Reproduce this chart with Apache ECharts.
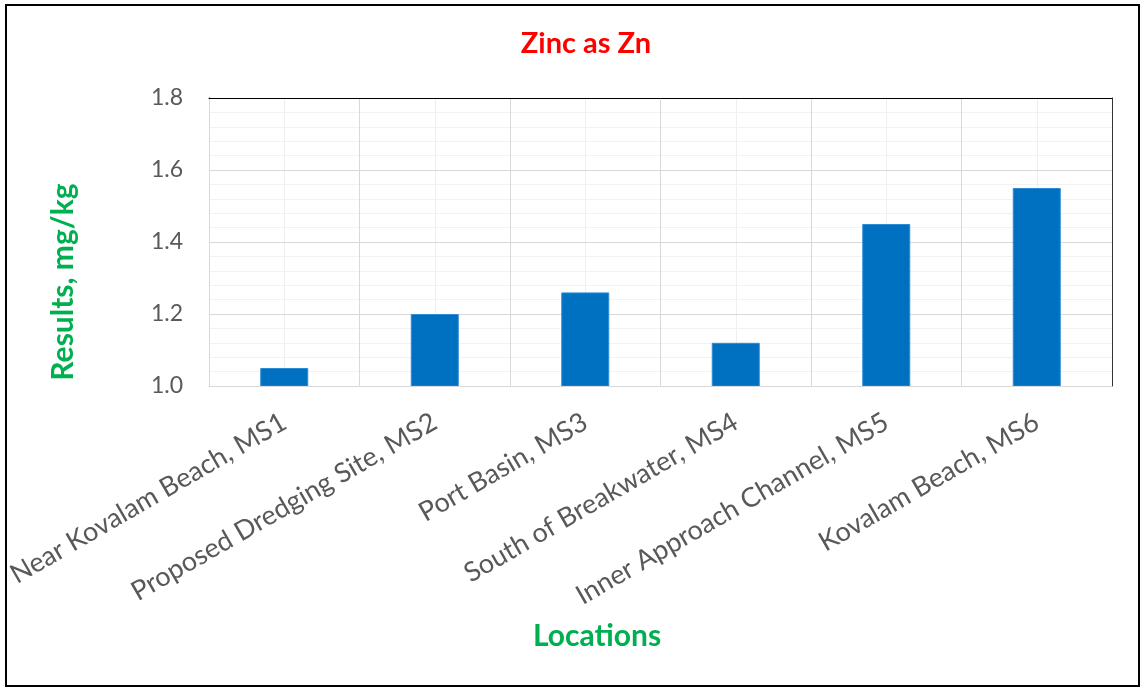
<!DOCTYPE html>
<html>
<head>
<meta charset="utf-8">
<script src="https://cdn.jsdelivr.net/npm/echarts@6/dist/echarts.min.js"></script>
<style>html,body{margin:0;padding:0;background:#fff;}#c{width:1147px;height:689px;}</style>
</head>
<body>
<div id="c"></div>
<script>
const categories = ['Near Kovalam Beach, MS1','Proposed Dredging Site, MS2','Port Basin, MS3','South of Breakwater, MS4','Inner Approach Channel, MS5','Kovalam Beach, MS6'];
const zincValues = [1.05, 1.20, 1.26, 1.12, 1.45, 1.55];
const yMin = 1.0, yMax = 1.8, yStep = 0.2;
const titleText = 'Zinc as Zn';
const yName = 'Results, mg/kg';
const xName = 'Locations';

const FONT = 'Lato, "Open Sans", sans-serif';
const chart = echarts.init(document.getElementById('c'), null, {renderer:'canvas'});
chart.setOption({
  animation:false,
  backgroundColor:'#fff',
  title:{text:titleText,left:581,top:24,textAlign:'center',textStyle:{color:'#FF0000',fontWeight:'bold',fontSize:29,fontFamily:FONT}},
  grid:{left:209,right:35,top:98,bottom:303,show:false},
  xAxis:[{
    type:'category',data:categories,z:6,
    axisLine:{show:true,lineStyle:{color:'#D9D9D9',width:1}},
    axisTick:{show:false},
    splitLine:{show:true,lineStyle:{color:'#D9D9D9',width:1}},
    axisLabel:{rotate:30,margin:34,color:'#595959',fontSize:27,fontFamily:FONT,interval:0}
  },{
    type:'value',min:0,max:12,interval:1,position:'bottom',z:0,
    axisLine:{show:false},axisTick:{show:false},axisLabel:{show:false},
    splitLine:{show:true,lineStyle:{color:'#EFEFEF',width:1}}
  },{
    type:'value',min:0,max:1,position:'top',z:8,
    axisLine:{show:true,onZero:false,lineStyle:{color:'#000',width:1}},
    axisTick:{show:false},axisLabel:{show:false},splitLine:{show:false}
  }],
  yAxis:[{
    type:'value',min:yMin,max:yMax,interval:yStep,z:1,
    axisLine:{show:true,lineStyle:{color:'#000',width:1}},
    axisTick:{show:false},
    axisLabel:{margin:26,color:'#595959',fontSize:23,fontFamily:FONT,formatter:v=>v.toFixed(1)},
    splitLine:{show:true,lineStyle:{color:'#D9D9D9',width:1}},
    minorTick:{show:false,splitNumber:5},
    minorSplitLine:{show:true,lineStyle:{color:'#F2F2F2',width:1}}
  },{
    type:'value',min:0,max:1,position:'right',z:8,
    axisLine:{show:true,onZero:false,lineStyle:{color:'#333',width:1}},
    axisTick:{show:false},axisLabel:{show:false},splitLine:{show:false}
  }],
  series:[{type:'bar',xAxisIndex:0,yAxisIndex:0,data:zincValues,barWidth:48,itemStyle:{color:'#0070C0',borderColor:'#2E8BD6',borderWidth:1},z:3}],
  graphic:[
    {type:'rect',shape:{x:6,y:5,width:1133,height:681},style:{fill:'none',stroke:'#000',lineWidth:2},z:100},
    {type:'text',x:63,y:282,rotation:Math.PI/2,style:{text:yName,x:0,y:0,align:'center',verticalAlign:'middle',fill:'#00B050',font:'bold 30px '+FONT}},
    {type:'text',style:{text:xName,x:597,y:636,align:'center',verticalAlign:'middle',fill:'#00B050',font:'bold 30px '+FONT}}
  ]
});
</script>
</body>
</html>
